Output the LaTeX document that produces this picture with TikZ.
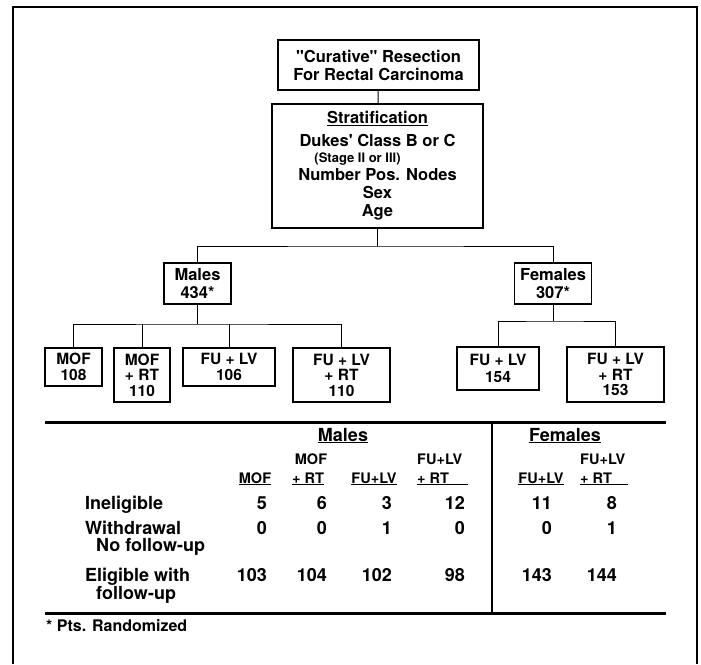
\documentclass[tikz,border=0pt]{standalone}
\usepackage{fontspec}
\setmainfont{TeX Gyre Heros}
\newfontfamily\plainheros{TeX Gyre Heros}
\newcommand{\boxfont}{\fontsize{16.5}{18}\selectfont\bfseries}
\newcommand{\kidfont}{\fontsize{15.5}{15.5}\selectfont\bfseries}
\newcommand{\tabfont}{\fontsize{18}{18}\selectfont\bfseries}
\newcommand{\headfont}{\fontsize{14.5}{15}\selectfont\bfseries}
\newcommand{\notefont}{\fontsize{16}{16}\selectfont\bfseries}
\newcommand{\sq}{{\plainheros\bfseries\char39}}
\newcommand{\dq}{{\plainheros\bfseries\char34}}
\tikzset{
  frame/.style={line width=2.6pt},
  box/.style={draw, line width=1.3pt, inner sep=0pt, align=center, font=\boxfont},
  kid/.style={box, font=\kidfont},
  link/.style={line width=1pt},
  rule/.style={line width=3pt},
  cell/.style={inner sep=0pt, font=\tabfont},
  colhead/.style={inner sep=0pt, font=\headfont}
}
\begin{document}
\begin{tikzpicture}[x=1pt,y=-1pt]
    \useasboundingbox (0,0) rectangle (701,664);
    % ---- outer frame, open at the bottom ----
    \draw[frame] (13,664) -- (13,7) -- (697,7) -- (697,664);
    % ---- flow chart ----
    \node[box, minimum width=201pt, minimum height=50pt] (resect) at (378.5,65)
      {\dq Curative\dq{} Resection\\For Rectal Carcinoma};
    \node[box, line width=2pt, minimum width=211pt, minimum height=124pt] (strat) at (377.5,166)
      {\underline{Stratification}\\[5pt]
       Dukes\sq{} Class B or C\\[-2pt]
       \hspace*{-40pt}{\fontsize{13}{14}\selectfont (Stage II or III)}\\
       Number Pos. Nodes\\Sex\\Age};
    \node[box, minimum width=67pt, minimum height=41pt] (males) at (197.5,283.5) {Males\\434*};
    \node[box, minimum width=77pt, minimum height=41pt] (females) at (553,283.5) {Females\\307*};
    % males arms
    \node[kid, minimum width=57pt, minimum height=38pt] (mof) at (73.5,367) {MOF\\108};
    \node[kid, line width=2pt, minimum width=56pt, minimum height=54pt] (mofrt) at (142,375) {MOF\\+ RT\\110};
    \node[kid, minimum width=92pt, minimum height=38pt] (fulv) at (229,367) {FU + LV\\106};
    \node[kid, minimum width=97pt, minimum height=54pt] (fulvrt) at (341.5,375) {FU + LV\\+ RT\\110};
    % females arms
    \node[kid, minimum width=82pt, minimum height=43pt] (ffulv) at (498,368.5) {FU + LV\\[1pt]154};
    \node[kid, minimum width=97pt, minimum height=55pt] (ffulvrt) at (615.5,374.5) {FU + LV\\+ RT\\153};
    % connectors
    \draw[link] (resect) -- (strat);
    \coordinate (sexbus) at (376,246);
    \draw[link] (strat) -- (strat |- sexbus);
    \draw[link] (males) |- (sexbus) -| (females);
    \coordinate (mbus) at (197,324);
    \draw[link] (males) -- (males |- mbus);
    \draw[link] (mof) |- (mbus) -| (fulvrt);
    \draw[link] (mofrt) -- (mofrt |- mbus);
    \draw[link] (fulv) -- (fulv |- mbus);
    \coordinate (fbus) at (553,321);
    \draw[link] (females) -- (females |- fbus);
    \draw[link] (ffulv) |- (fbus) -| (ffulvrt);
    % ---- table ----
    \draw[rule] (45,422) -- (666,422);
    \draw[rule] (45,613) -- (666,613);
    \draw[line width=2pt] (492,422) -- (492,613);
    \node[cell, anchor=base] (mhead) at (343,441) {\underline{Males}};
    \node[cell, anchor=base] (fhead) at (565,441) {\underline{Females}};
    \node[colhead, anchor=base] (h1) at (255,483) {\underline{MOF}};
    \node[colhead, anchor=base] (h2a) at (311,464) {MOF};
    \node[colhead, anchor=base] (h2) at (308,483) {\underline{+ RT}};
    \node[colhead, anchor=base] (h3) at (374,483) {\underline{FU+LV}};
    \node[colhead, anchor=base west] (h4a) at (417,464) {FU+LV};
    \node[colhead, anchor=base west] (h4) at (417,483) {\underline{\makebox[51pt][l]{+ RT}}};
    \node[colhead, anchor=base] (h5) at (541,483) {\underline{FU+LV}};
    \node[colhead, anchor=base west] (h6a) at (580,464) {FU+LV};
    \node[colhead, anchor=base west] (h6) at (580,483) {\underline{\makebox[48pt][l]{+ RT}}};
    \node[cell, anchor=base west] (inel) at (85,509) {Ineligible};
    \node[cell, anchor=base west] (wdraw) at (85,534) {Withdrawal};
    \node[cell, anchor=base west] (nofu) at (96,551) {No follow-up};
    \node[cell, anchor=base west] (elig) at (85,581) {Eligible with};
    \node[cell, anchor=base west] (elfu) at (96,599) {follow-up};
    \foreach \y/\a/\b/\c/\d/\e/\f [count=\r] in {%
      509/5/6/3/12/11/8,%
      534/0/0/1/0/0/1,%
      581/103/104/102/98/143/144}{
        \foreach \x/\v [count=\k] in {267/\a,327/\b,392/\c,465/\d,552/\e,617/\f}
          \node[cell, anchor=base east] (v\r\k) at (\x,\y) {\v};}
    \node[anchor=base west, inner sep=0pt, font=\notefont] (note) at (46,631) {* Pts. Randomized};
\end{tikzpicture}
\end{document}
